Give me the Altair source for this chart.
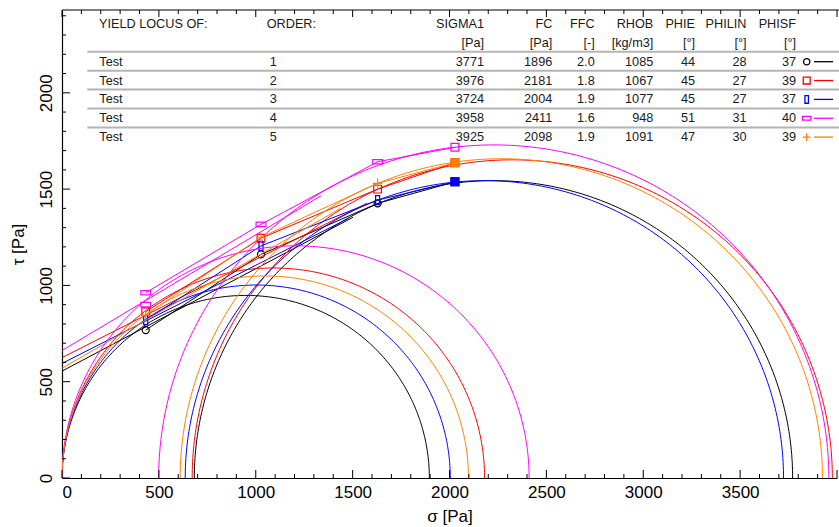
import altair as alt
import numpy as np
import pandas as pd

# ---------------- data ----------------
test_names = ["Test", "Test", "Test", "Test", "Test"]
orders = [1, 2, 3, 4, 5]
sigma1 = [3771, 3976, 3724, 3958, 3925]
fc = [1896, 2181, 2004, 2411, 2098]
ffc = ["2.0", "1.8", "1.9", "1.6", "1.9"]
rhob = [1085, 1067, 1077, 948, 1091]
phie = [44, 45, 45, 51, 47]
philin = [28, 27, 27, 31, 30]
phisf = [37, 39, 37, 40, 39]

# left end of the major Mohr circle (sigma2)
sigma2 = [683, 672, 636, 499, 610]
# preshear points
pre_sigma = [2028, 2028, 2028, 2028, 2028]
pre_tau = [1538, 1637, 1538, 1717, 1637]
# yield (shear) points
yield_sigma = [[432, 1027, 1629], [432, 1027, 1629], [432, 1027, 1629],
               [432, 432, 1027, 1629], [432, 1027, 1629]]
yield_tau = [[768, 1161, 1426], [863, 1245, 1500], [820, 1205, 1443],
             [962, 900, 1317, 1642], [846, 1250, 1530]]
# yield locus polyline through points
locus_sigma = [[432, 1027, 1629, 2028], [432, 1027, 1629, 2028], [432, 1027, 1629, 2028],
               [432, 1027, 1629, 2028], [432, 1027, 1629, 2028]]
locus_tau = [[768, 1161, 1426, 1538], [863, 1245, 1500, 1637], [820, 1205, 1443, 1538],
             [962, 1317, 1642, 1717], [846, 1250, 1530, 1637]]
# intercept of linearized yield locus at sigma = 0
lin_intercept = [555, 625, 595, 662, 570]

x_tick_labels = [0, 500, 1000, 1500, 2000, 2500, 3000, 3500]
y_tick_labels = [0, 500, 1000, 1500, 2000]

# ---------------- styling ----------------
colors = ["#000000", "#ff0000", "#0000ff", "#ff00ff", "#ff8000"]
shapes = ["circle", "square", "M-0.45,-1L0.45,-1L0.45,1L-0.45,1Z",
          "M-1,-0.45L1,-0.45L1,0.45L-1,0.45Z", "M-1,0L1,0M0,-1L0,1"]
sizes = [50, 60, 80, 95, 90]
FONT = "Liberation Sans"
W, H = 775, 468
XMAX, YMAX = 4000, 2430

xs = alt.Scale(domain=[0, XMAX], nice=False, zero=False)
ys = alt.Scale(domain=[0, YMAX], nice=False, zero=False)
xaxis = alt.Axis(values=x_tick_labels, format="d", title="σ [Pa]", labelPadding=6,
                 titlePadding=8, ticks=False, grid=False)
yaxis = alt.Axis(values=y_tick_labels, format="d", title="τ [Pa]", labelAngle=270,
                 labelAlign="center", labelBaseline="bottom", labelPadding=7,
                 titlePadding=10, ticks=False, grid=False)
X = lambda f: alt.X(f, scale=xs, axis=xaxis)
Y = lambda f: alt.Y(f, scale=ys, axis=yaxis)

# ---------------- build geometry ----------------
theta = np.linspace(0.0, np.pi, 241)
rows = []
for t in range(5):
    c, r = fc[t] / 2.0, fc[t] / 2.0
    for i, th in enumerate(theta):
        rows.append(dict(curve=f"s{t}", t=t, i=i, s=c - r * np.cos(th), tau=r * np.sin(th)))
    c, r = (sigma1[t] + sigma2[t]) / 2.0, (sigma1[t] - sigma2[t]) / 2.0
    for i, th in enumerate(theta):
        rows.append(dict(curve=f"b{t}", t=t, i=i, s=c - r * np.cos(th), tau=r * np.sin(th)))
    phi = np.radians(philin[t])
    s_end = c - r * np.sin(phi)
    rows.append(dict(curve=f"l{t}", t=t, i=0, s=0.0, tau=lin_intercept[t]))
    rows.append(dict(curve=f"l{t}", t=t, i=1, s=s_end, tau=lin_intercept[t] + np.tan(phi) * s_end))
    for i, (sv, tv) in enumerate(zip(locus_sigma[t], locus_tau[t])):
        rows.append(dict(curve=f"p{t}", t=t, i=i, s=sv, tau=tv))
curves = pd.DataFrame(rows)
curves["color"] = curves["t"].map(lambda k: colors[k])

pts = []
for t in range(5):
    for sv, tv in zip(yield_sigma[t], yield_tau[t]):
        pts.append(dict(t=t, s=sv, tau=tv, color=colors[t], shape=shapes[t], size=sizes[t]))
pts = pd.DataFrame(pts)
pre = pd.DataFrame(dict(t=list(range(5)), s=pre_sigma, tau=pre_tau, color=colors,
                        fillc=[colors[k] if k != 3 else "transparent" for k in range(5)]))

layers = []
for t in range(5):
    d = curves[curves.t == t]
    layers.append(
        alt.Chart(d).mark_line(strokeWidth=1, clip=True).encode(
            x=X("s:Q"), y=Y("tau:Q"),
            detail="curve:N", order="i:Q",
            color=alt.Color("color:N", scale=None),
        )
    )
    layers.append(
        alt.Chart(pts[pts.t == t]).mark_point(filled=False, strokeWidth=1.2, opacity=1).encode(
            x=X("s:Q"), y=Y("tau:Q"),
            color=alt.Color("color:N", scale=None),
            shape=alt.Shape("shape:N", scale=None),
            size=alt.Size("size:Q", scale=None),
        )
    )
    layers.append(
        alt.Chart(pre[pre.t == t]).mark_point(shape="square", size=60, strokeWidth=1.3, opacity=1).encode(
            x=X("s:Q"), y=Y("tau:Q"),
            stroke=alt.Stroke("color:N", scale=None),
            fill=alt.Fill("fillc:N", scale=None),
        )
    )

# ---------------- inward ticks & top frame ----------------
minor_x = pd.DataFrame(dict(v=[v for v in range(0, XMAX + 1, 100) if v % 500]))
major_x = pd.DataFrame(dict(v=list(range(0, XMAX + 1, 500))))
minor_y = pd.DataFrame(dict(v=[v for v in range(0, YMAX, 100) if v % 500]))
major_y = pd.DataFrame(dict(v=list(range(0, YMAX, 500))))

def xt(df, y0, y1):
    return alt.Chart(df).mark_rule(color="black", strokeWidth=1).encode(
        x=X("v:Q"), y=alt.value(y0), y2=alt.value(y1))

def yt(df, x0, x1):
    return alt.Chart(df).mark_rule(color="black", strokeWidth=1).encode(
        y=Y("v:Q"), x=alt.value(x0), x2=alt.value(x1))

ticks = [xt(minor_x, H, H - 4), xt(major_x, H, H - 8), xt(minor_x, 0, 4), xt(major_x, 0, 7),
         yt(minor_y, 0, 4), yt(major_y, 0, 8)]
frame = alt.Chart(pd.DataFrame(dict(a=[0]))).mark_rule(color="black", strokeWidth=1.2).encode(
    x=alt.value(0), x2=alt.value(W + 5), y=alt.value(0))

# ---------------- table ----------------
col_right = [422, 490.3, 532.7, 591.3, 633, 684.5, 734]
hdr_y, unit_y, row0, dy = 14, 32.7, 51.7, 18.85
left_txt = [dict(x=37, y=hdr_y, txt="YIELD LOCUS OF:"), dict(x=204.7, y=hdr_y, txt="ORDER:")]
center_txt = []
right_txt = []
headers = ["SIGMA1", "FC", "FFC", "RHOB", "PHIE", "PHILIN", "PHISF"]
units = ["[Pa]", "[Pa]", "[-]", "[kg/m3]", "[°]", "[°]", "[°]"]
for cx, h, u in zip(col_right, headers, units):
    right_txt.append(dict(x=cx, y=hdr_y, txt=h))
    right_txt.append(dict(x=cx, y=unit_y, txt=u))
for t in range(5):
    yy = row0 + dy * t
    left_txt.append(dict(x=37.3, y=yy, txt=test_names[t]))
    center_txt.append(dict(x=211.3, y=yy, txt=str(orders[t])))
    vals = [sigma1[t], fc[t], ffc[t], rhob[t], phie[t], philin[t], phisf[t]]
    for cx, v in zip(col_right, vals):
        right_txt.append(dict(x=cx, y=yy, txt=str(v)))

def txt_layer(rows_, align):
    return alt.Chart(pd.DataFrame(rows_)).mark_text(
        align=align, baseline="middle", font=FONT, fontSize=12.7, color="#1a1a1a").encode(
        x=alt.X("x:Q", scale=None), y=alt.Y("y:Q", scale=None), text="txt:N")

sep = pd.DataFrame(dict(y=[41.7 + 18.95 * k for k in range(5)]))
sep_layer = alt.Chart(sep).mark_rule(color="#b4b4b4", strokeWidth=2).encode(
    y=alt.Y("y:Q", scale=None), x=alt.value(25.3), x2=alt.value(W + 5))

leg = pd.DataFrame(dict(t=list(range(5)), y=[row0 + dy * k for k in range(5)], color=colors,
                        shape=shapes, size=[40, 48, 60, 70, 60]))
leg_pts = alt.Chart(leg).mark_point(filled=False, strokeWidth=1.3, opacity=1).encode(
    x=alt.value(744.7), y=alt.Y("y:Q", scale=None),
    color=alt.Color("color:N", scale=None), shape=alt.Shape("shape:N", scale=None),
    size=alt.Size("size:Q", scale=None))
leg_lines = alt.Chart(leg).mark_rule(strokeWidth=1.3).encode(
    x=alt.value(752), x2=alt.value(771), y=alt.Y("y:Q", scale=None),
    color=alt.Color("color:N", scale=None))

chart = alt.layer(
    *layers, sep_layer, *ticks, frame,
    txt_layer(left_txt, "left"), txt_layer(center_txt, "center"), txt_layer(right_txt, "right"),
    leg_pts, leg_lines,
).properties(
    width=W, height=H,
    autosize=alt.AutoSizeParams(type="none"),
    padding={"left": 62, "top": 10, "right": 2, "bottom": 49},
).configure_view(stroke=None).configure_axis(
    grid=False, ticks=False, domainColor="black", domainWidth=1.2,
    labelFont=FONT, labelFontSize=17, labelColor="black",
    titleFont=FONT, titleFontSize=17, titleFontWeight="normal", titleColor="black",
)

chart.save("out.html", embed_options={"renderer": "svg", "actions": False})
